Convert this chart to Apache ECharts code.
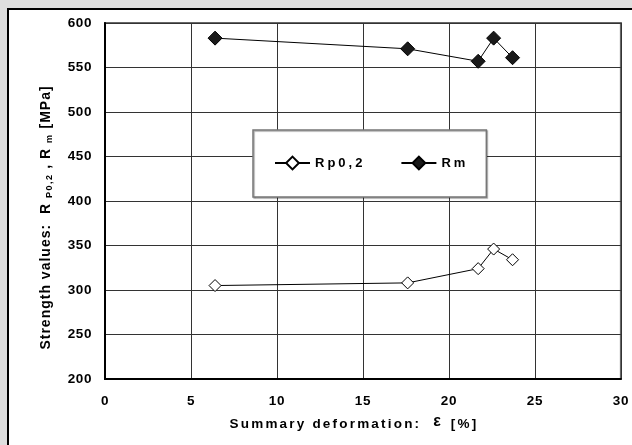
<!DOCTYPE html>
<html>
<head>
<meta charset="utf-8">
<script src="https://cdn.jsdelivr.net/npm/echarts@6/dist/echarts.min.js"></script>
<style>
html,body{margin:0;padding:0;background:#dedede;}
#c{width:632px;height:445px;}
</style>
</head>
<body>
<div id="c"></div>
<script>
// letter spacing helper: fonts carrying a "zspNN" pseudo-family get NN/10 px spacing
(function(){
  var P = window.CanvasRenderingContext2D && CanvasRenderingContext2D.prototype;
  if (!P || !('letterSpacing' in P)) return;
  function apply(ctx){ var m = /zsp(\d+)/.exec(ctx.font || ''); ctx.letterSpacing = m ? (m[1]/10) + 'px' : '0px'; }
  var ft = P.fillText, st = P.strokeText, mt = P.measureText;
  P.fillText = function(){ apply(this); return ft.apply(this, arguments); };
  P.strokeText = function(){ apply(this); return st.apply(this, arguments); };
  P.measureText = function(){ apply(this); return mt.apply(this, arguments); };
})();

var deformation = [6.4, 17.6, 21.7, 22.6, 23.7];
var rp02 = [305, 308, 324, 346, 334];
var rm = [583, 571, 557, 583, 561];
var seriesNames = ['Rp0,2', 'Rm'];
var xTitle = 'Summary deformation:';
var yTitle = ['Strength values:  R ', 'P0,2', ' , R ', 'm', ' [MPa]'];

function pairs(xs, ys){ return xs.map(function(x, i){ return [x, ys[i]]; }); }

var FONT = 'Liberation Sans, Arial, sans-serif';
var chart = echarts.init(document.getElementById('c'), null, {renderer: 'canvas'});
chart.setOption({
  backgroundColor: 'transparent',
  animation: false,
  graphic: [{
    type: 'rect', z: -100, silent: true,
    shape: {x: 8, y: 9, width: 700, height: 500},
    style: {fill: '#fff', stroke: '#000', lineWidth: 2}
  }],
  grid: {left: 105, right: 8, top: 23, bottom: 66, show: true, borderColor: '#666', borderWidth: 2, backgroundColor: 'transparent'},
  legend: {
    left: 253, top: 130,
    padding: [25, 18, 26, 21],
    itemGap: 35, itemWidth: 35, itemHeight: 16,
    backgroundColor: '#fff', borderColor: '#777', borderWidth: 1.5,
    shadowColor: 'rgba(0,0,0,0.35)', shadowOffsetX: 1, shadowOffsetY: 1, shadowBlur: 1,
    data: seriesNames,
    textStyle: {fontFamily: FONT + ', zsp30', fontWeight: 'bold', fontSize: 13, color: '#000'}
  },
  xAxis: {
    type: 'value', min: 0, max: 30, interval: 5,
    axisLine: {show: true, onZero: false, lineStyle: {color: '#000', width: 2}},
    axisTick: {show: false},
    splitLine: {show: true, lineStyle: {color: '#333', width: 1}},
    axisLabel: {fontFamily: FONT + ', zsp06', fontWeight: 'bold', fontSize: 13.5, color: '#000', margin: 15},
    name: '{a|' + xTitle + '  }{e|ε}{a| [%]}',
    nameLocation: 'middle', nameGap: 35,
    nameTextStyle: {
      padding: [0, 18, 0, 0],
      rich: {
        a: {fontFamily: FONT + ', zsp22', fontWeight: 'bold', fontSize: 13.5, color: '#000'},
        e: {fontFamily: FONT, fontWeight: 'bold', fontSize: 16, color: '#000', padding: [0, 4, 5, 0]}
      }
    }
  },
  yAxis: {
    type: 'value', min: 200, max: 600, interval: 50,
    axisLine: {show: true, lineStyle: {color: '#000', width: 2}},
    axisTick: {show: false},
    splitLine: {show: true, lineStyle: {color: '#333', width: 1}},
    axisLabel: {fontFamily: FONT + ', zsp06', fontWeight: 'bold', fontSize: 13.5, color: '#000', margin: 13},
    name: '{a|' + yTitle[0] + '}{s|' + yTitle[1] + '}{a|' + yTitle[2] + '}{s|' + yTitle[3] + '}{a|' + yTitle[4] + '}',
    nameLocation: 'middle', nameGap: 50, nameRotate: 90,
    nameTextStyle: {
      padding: [0, 33, 0, 0],
      rich: {
        a: {fontFamily: FONT + ', zsp10', fontWeight: 'bold', fontSize: 14, color: '#000', lineHeight: 17},
        s: {fontFamily: FONT + ', zsp15', fontWeight: 'bold', fontSize: 9, color: '#000', lineHeight: 17, verticalAlign: 'bottom'}
      }
    }
  },
  series: [{
    name: seriesNames[0], type: 'line',
    data: pairs(deformation, rp02),
    symbol: 'diamond', symbolSize: 12,
    itemStyle: {color: '#fff', borderColor: '#000', borderWidth: 1},
    lineStyle: {color: '#000', width: 1}
  }, {
    name: seriesNames[1], type: 'line',
    data: pairs(deformation, rm),
    symbol: 'diamond', symbolSize: 14,
    itemStyle: {color: '#1a1a1a', borderColor: '#000', borderWidth: 1},
    lineStyle: {color: '#000', width: 1}
  }]
});
</script>
</body>
</html>
